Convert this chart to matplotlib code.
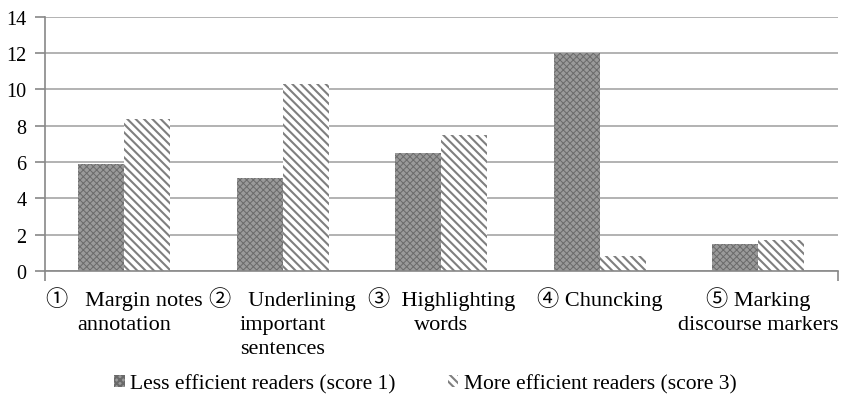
import numpy as np
import matplotlib
matplotlib.use("Agg")
import matplotlib.pyplot as plt

plt.rcParams['font.family'] = ['Liberation Serif', 'Noto Sans CJK JP', 'DejaVu Sans']

categories = ["①   Margin notes\nannotation", "②   Underlining\nimportant\nsentences",
              "③  Highlighting\nwords", "④ Chuncking", "⑤ Marking\ndiscourse markers"]
less_efficient = [5.9, 5.1, 6.5, 12.0, 1.5]
more_efficient = [8.4, 10.3, 7.5, 0.8, 1.7]
series_names = ["Less efficient readers (score 1)", "More efficient readers (score 3)"]

fig = plt.figure(figsize=(8.42, 4.06), dpi=100)
ax = fig.add_axes([0.053, 0.33, 0.942, 0.626])

x = np.arange(len(categories))
w = 0.29
# dense checker pattern for the first series, diagonal stripes for the second
plt.rcParams['hatch.linewidth'] = 0.7
ax.bar(x - w / 2, less_efficient, w, facecolor='#9a9a9a', edgecolor='#6a6a6a',
       hatch='xxxxx', linewidth=0, label=series_names[0])
plt.rcParams['hatch.linewidth'] = 1.5
ax.bar(x + w / 2, more_efficient, w, facecolor='white', edgecolor='#7f7f7f',
       hatch='\\\\\\\\', linewidth=0, label=series_names[1])

ax.set_xlim(-0.5, len(categories) - 0.5)
ax.set_ylim(0, 14)
ax.set_yticks(range(0, 15, 2))
ax.yaxis.grid(True, color='#a6a6a6', linewidth=1.2)
ax.set_axisbelow(True)

for s in ['top', 'right']:
    ax.spines[s].set_visible(False)
for s in ['left', 'bottom']:
    ax.spines[s].set_color('#888888')
    ax.spines[s].set_linewidth(1.2)

ax.set_xticks([-0.5, len(categories) - 0.5])
ax.set_xticklabels([])
ax.tick_params(axis='x', length=7, color='#888888', width=1.2)
ax.tick_params(axis='y', length=7, color='#888888', width=1.2, labelsize=14.5, pad=6)
for i, lab in enumerate(categories):
    ax.text(i, -0.85, lab, ha='center', va='top', fontsize=16, linespacing=1.36)

ax.legend(loc='center', bbox_to_anchor=(0.48, -0.445), ncol=2, frameon=False,
          fontsize=15.5, handlelength=0.5, handleheight=0.5, handletextpad=0.25,
          columnspacing=2.4, borderpad=0, borderaxespad=0)

fig.savefig("out.png", dpi=100)
